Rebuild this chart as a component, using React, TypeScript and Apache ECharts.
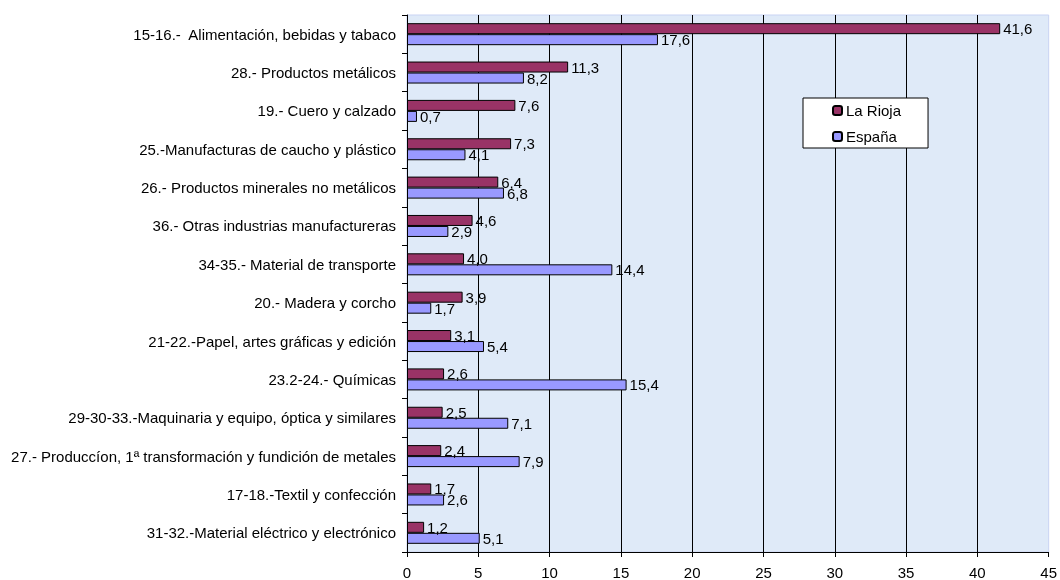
import React, { useEffect, useRef } from "react";
import * as echarts from "echarts";

const categories = [
  "15-16.-  Alimentación, bebidas y tabaco",
  "28.- Productos metálicos",
  "19.- Cuero y calzado",
  "25.-Manufacturas de caucho y plástico",
  "26.- Productos minerales no metálicos",
  "36.- Otras industrias manufactureras",
  "34-35.- Material de transporte",
  "20.- Madera y corcho",
  "21-22.-Papel, artes gráficas y edición",
  "23.2-24.- Químicas",
  "29-30-33.-Maquinaria y equipo, óptica y similares",
  "27.- Produccíon, 1ª transformación y fundición de metales",
  "17-18.-Textil y confección",
  "31-32.-Material eléctrico y electrónico",
];
const laRioja = [41.6, 11.3, 7.6, 7.3, 6.4, 4.6, 4.0, 3.9, 3.1, 2.6, 2.5, 2.4, 1.7, 1.2];
const espana = [17.6, 8.2, 0.7, 4.1, 6.8, 2.9, 14.4, 1.7, 5.4, 15.4, 7.1, 7.9, 2.6, 5.1];
const xTicks = { min: 0, max: 45, interval: 5 };

const FONT = "Liberation Sans, Arial, sans-serif";
const FS = 15;
const fmt = (p: any) => Number(p.value).toFixed(1).replace(".", ",");

export default function App() {
  const ref = useRef<HTMLDivElement>(null);
  useEffect(() => {
    if (!ref.current) return;
    const chart = echarts.init(ref.current, null, { renderer: "svg" });
    const barLabel = {
      show: true,
      position: "right",
      distance: 3,
      color: "#000",
      fontSize: FS,
      fontFamily: FONT,
      formatter: fmt,
    };
    chart.setOption({
      animation: false,
      textStyle: { fontFamily: FONT },
      grid: {
        left: 407,
        right: 9,
        top: 15,
        bottom: 27,
        show: true,
        backgroundColor: "#dfeaf8",
        borderColor: "#c9d3f3",
        borderWidth: 1,
      },
      legend: {
        orient: "vertical",
        left: 803,
        top: 98,
        backgroundColor: "#fff",
        borderColor: "#000",
        borderWidth: 1,
        borderRadius: 0,
        padding: [5, 27, 4, 29],
        itemGap: 11,
        itemWidth: 9,
        itemHeight: 9,
        textStyle: { fontSize: FS, color: "#000", fontFamily: FONT, padding: [0, 0, 0, -1] },
        data: ["La Rioja", "España"],
      },
      xAxis: {
        type: "value",
        min: xTicks.min,
        max: xTicks.max,
        interval: xTicks.interval,
        axisLine: { show: true, lineStyle: { color: "#000", width: 1 } },
        axisTick: { show: true, length: 5, lineStyle: { color: "#000" } },
        axisLabel: { color: "#000", fontSize: FS, margin: 13, fontFamily: FONT },
        splitLine: { show: true, showMaxLine: false, lineStyle: { color: "#000", width: 1 } },
      },
      yAxis: {
        type: "category",
        inverse: true,
        data: categories,
        axisLine: { show: true, lineStyle: { color: "#000", width: 1 } },
        axisTick: { show: true, length: 5, lineStyle: { color: "#000" } },
        axisLabel: { color: "#000", fontSize: FS, margin: 11, fontFamily: FONT },
      },
      series: [
        {
          name: "La Rioja",
          type: "bar",
          data: laRioja,
          barWidth: 11,
          barGap: "0%",
          itemStyle: { color: "#993366", borderColor: "#000", borderWidth: 1 },
          label: barLabel,
        },
        {
          name: "España",
          type: "bar",
          data: espana,
          barWidth: 11,
          barGap: "0%",
          itemStyle: { color: "#9999ff", borderColor: "#000", borderWidth: 1 },
          label: barLabel,
        },
      ],
    });
    return () => chart.dispose();
  }, []);
  return (
    <div
      ref={ref}
      style={{ position: "fixed", left: 0, top: 0, width: 1060, height: 580 }}
    />
  );
}
